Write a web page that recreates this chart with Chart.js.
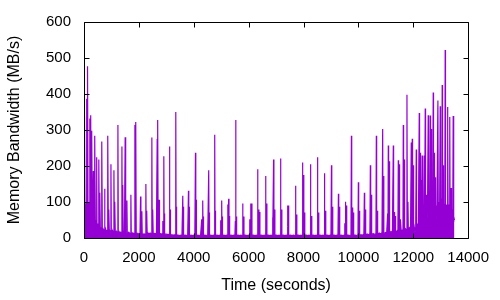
<!DOCTYPE html>
<html>
<head>
<meta charset="utf-8">
<script src="https://cdn.jsdelivr.net/npm/chart.js@4/dist/chart.umd.min.js"></script>
<style>
html,body{margin:0;padding:0;background:#fff;}
#wrap{width:500px;height:300px;}
</style>
</head>
<body>
<div id="wrap"><canvas id="c" width="500" height="300"></canvas></div>
<script>
// Tick labels
const xTickValues = [0, 2000, 4000, 6000, 8000, 10000, 12000, 14000];
const yTickValues = [0, 100, 200, 300, 400, 500, 600];
const xTitle = 'Time (seconds)';
const yTitle = 'Memory Bandwidth (MB/s)';

// Samples [time (s), bandwidth (MB/s)]
const samplesStart = [
 [0,45],[12,30],[25,338],[38,40],[52,60],[66,28],[80,95],[98,387],[110,45],[122,65],[135,477],[147,55],
 [160,35],[175,100],[190,40],[207,332],[218,60],[232,35],[244,341],[256,90],[270,45],[280,30],[291,298],
 [302,55],[316,70],[328,35],[340,186],[352,60],[366,45],[382,30],[400,284],[412,50],[426,35],[442,48],
 [462,224],[474,40],[490,28],[505,38],[520,24],[534,32],[546,218],[558,28],[570,24],[582,126],[594,24],
 [610,30],[625,20],[640,24],[655,268],[667,25],[682,20],[700,24],[720,18],[740,22],[752,137],[764,22],
 [780,18],[800,22],[820,17],[840,20],[858,18],[873,284],[885,30],[897,18],[909,79],[921,18],[940,20],
 [960,16],[982,205],[994,22],[1010,17],[1030,15],[1050,19],[1070,15],[1091,188],[1103,20],[1115,16],
 [1127,101],[1139,16],[1160,14],[1180,18],[1200,14],[1220,17],[1236,314],[1248,20],[1262,14],[1280,17],
 [1300,13],[1320,16],[1340,13],[1360,16],[1382,254],[1394,16],[1406,13],[1418,147],[1430,14],[1450,16],
 [1475,12],[1500,280],[1512,16],[1526,12],[1540,12],[1564,104],[1576,13],[1600,11],[1620,15],[1640,11],
 [1660,14],[1685,11],[1709,120],[1721,13],[1740,11],[1760,14],[1780,11],[1800,13],[1820,11],[1840,13],
 [1855,314],[1867,15],[1880,13],[1891,322],[1903,13],[1920,11],[1940,13],[1960,10],[1980,12],[2000,10],
 [2020,12],[2040,10],[2062,115],[2074,12],[2090,10],[2109,74],[2121,11],[2140,9],[2160,11],[2180,9],
 [2200,11],[2220,9],[2240,11],[2255,150],[2267,10],[2280,9],[2291,76],[2303,9]
];
const samplesEarlyMid = [
 [2330,14],[2370,12],[2410,14],[2450,12],[2473,279],[2485,14],[2497,10],[2510,79],[2522,10],[2560,13],
 [2600,12],[2640,13],[2667,275],[2679,20],[2691,328],[2703,14],[2716,10],[2740,106],[2752,10],[2790,12],
 [2830,11],[2860,12],[2873,47],[2885,10],[2909,227],[2921,12],[2933,68],[2945,10],[2990,11],[3040,10],
 [3080,10],[3100,9],[3116,254],[3128,10],[3140,79],[3152,9],[3200,9],[3250,8],[3300,9],[3330,8],
 [3345,350],[3357,9],[3369,87],[3381,8],[3430,8],[3480,7],[3530,8],[3570,7],[3600,117],[3612,9],
 [3624,87],[3636,7],[3690,8],[3740,7],[3780,8],[3807,131],[3819,9],[3831,87],[3843,7],[3900,8],
 [3950,7],[4000,8],[4040,7],[4062,237],[4074,9],[4086,106],[4098,7],[4150,8],[4200,7],[4250,8],
 [4290,52],[4302,9],[4327,104],[4339,10],[4351,60],[4363,7],[4410,8],[4460,7],[4510,8],[4545,188],
 [4557,9],[4569,71],[4581,7]
];
const samplesMid = [
 [4620,8],[4670,7],[4720,8],[4750,7],[4764,287],[4776,9],[4788,76],[4800,7],[4850,8],[4900,7],[4950,8],
 [4970,7],[4982,49],[4994,8],[5018,104],[5030,9],[5042,60],[5054,7],[5100,8],[5150,7],[5200,8],[5224,7],
 [5236,93],[5248,20],[5272,109],[5284,9],[5296,61],[5308,7],[5360,8],[5410,7],[5460,8],[5500,7],
 [5515,47],[5527,328],[5539,10],[5551,60],[5563,7],[5620,8],[5670,7],[5720,8],[5760,7],[5782,96],
 [5794,9],[5818,60],[5830,7],[5890,8],[5940,7],[5990,8],[6030,7],[6042,52],[6054,9],[6073,96],
 [6085,15],[6109,96],[6121,7],[6180,8],[6230,7],[6280,8],[6310,7],[6327,191],[6339,9],[6363,79],
 [6375,10],[6399,72],[6411,7],[6470,8],[6520,7],[6570,8],[6600,7],[6618,172],[6630,9],[6654,96],
 [6666,7],[6720,8],[6770,7],[6820,8],[6860,7],[6873,57],[6885,9],[6909,218],[6921,10],[6945,79],[6957,7]
];
const samplesLateMid = [
 [7010,8],[7060,7],[7110,8],[7145,7],[7163,221],[7175,9],[7199,79],[7211,7],[7270,8],[7320,7],[7370,8],
 [7410,7],[7418,90],[7430,33],[7442,60],[7454,90],[7466,7],[7530,8],[7580,7],[7630,8],[7690,7],
 [7709,145],[7721,9],[7745,65],[7757,7],[7810,8],[7860,7],[7910,8],[7945,7],[7963,210],[7975,20],
 [7999,175],[8011,9],[8035,71],[8047,7],[8100,8],[8150,7],[8200,8],[8240,7],[8254,205],[8266,9],
 [8290,61],[8302,7],[8360,8],[8410,7],[8460,8],[8495,7],[8509,224],[8521,9],[8545,71],[8557,7],
 [8610,8],[8660,7],[8710,8],[8750,7],[8763,180],[8775,9],[8799,76],[8811,7],[8870,8],[8920,7],
 [8970,8],[9000,7],[9018,202],[9030,9],[9054,87],[9066,7],[9120,8],[9170,7],[9220,8],[9255,7],
 [9272,123],[9284,9],[9308,87],[9320,7]
];
const samplesRise = [
 [9380,8],[9430,7],[9480,8],[9505,41],[9517,9],[9527,101],[9539,10],[9563,90],[9575,8],[9630,8],
 [9680,7],[9730,8],[9745,284],[9757,10],[9781,85],[9793,10],[9817,71],[9829,8],[9890,8],[9940,7],
 [9985,9],[9999,155],[10011,9],[10035,76],[10047,8],[10100,9],[10150,8],[10200,10],[10218,126],
 [10230,10],[10254,79],[10266,8],[10320,11],[10370,9],[10420,12],[10436,202],[10448,12],[10472,120],
 [10484,10],[10540,12],[10590,10],[10640,12],[10654,284],[10666,12],[10690,76],[10702,10],[10760,14],
 [10810,11],[10860,15],[10885,303],[10897,15],[10921,172],[10933,12],[10990,15],[11030,12],[11066,68],
 [11078,14],[11090,257],[11102,20],[11126,213],[11138,14],[11190,18],[11240,14],[11272,257],[11284,15],
 [11308,72],[11320,14],[11344,61],[11356,15],[11410,20],[11440,15],[11454,216],[11466,25],[11490,205],
 [11502,10],[11530,52],[11560,20]
];
const samplesEnd = [
 [11600,22],[11625,30],[11636,314],[11648,25],[11672,218],[11684,20],[11720,25],[11750,18],[11770,398],
 [11782,22],[11806,101],[11818,20],[11860,28],[11900,20],[11927,265],[11939,35],[11963,276],[11975,25],
 [12000,202],[12012,20],[12036,30],[12060,15],[12090,25],[12109,246],[12121,30],[12145,25],[12160,40],
 [12185,20],[12218,347],[12230,60],[12254,237],[12266,40],[12290,161],[12302,30],[12326,229],[12338,25],
 [12362,61],[12374,20],[12400,229],[12412,30],[12436,360],[12448,50],[12472,120],[12484,35],[12520,80],
 [12545,341],[12557,40],[12580,110],[12595,40],[12618,340],[12630,60],[12654,303],[12666,40],[12690,150],
 [12702,30],[12727,404],[12739,70],[12763,237],[12775,50],[12800,169],[12812,60],[12840,90],[12860,50],
 [12898,382],[12910,70],[12940,100],[12960,55],[12982,366],[12994,65],[13020,110],[13040,50],[13054,425],
 [13066,70],[13090,202],[13102,60],[13130,95],[13150,70],[13163,522],[13175,60],[13199,93],[13211,50],
 [13230,90],[13248,364],[13260,295],[13272,55],[13296,93],[13308,45],[13330,336],[13342,60],[13381,139],
 [13393,55],[13420,80],[13440,50],[13454,339],[13466,45],[13480,60],[13500,50]
];

const allSamples = [].concat(samplesStart, samplesEarlyMid, samplesMid, samplesLateMid, samplesRise, samplesEnd);
const purple = '#9400D3';
const tickFont = {family: '"Liberation Sans", Arial, sans-serif', size: 15};
const titleFont = {family: '"Liberation Sans", Arial, sans-serif', size: 16};

const framePlugin = {
  id: 'frame',
  afterDatasetsDraw(chart) {
    const {ctx, chartArea: a, scales: {x, y}} = chart;
    const L = Math.round(a.left) + 0.5, R = Math.round(a.right) + 0.5;
    const T = Math.round(a.top) + 0.5, B = Math.round(a.bottom) + 0.5;
    const len = 5;
    ctx.save();
    ctx.strokeStyle = '#000';
    ctx.lineWidth = 1;
    ctx.beginPath();
    ctx.rect(L, T, R - L, B - T);
    x.ticks.forEach(t => {
      const p = Math.round(x.getPixelForValue(t.value)) + 0.5;
      ctx.moveTo(p, B); ctx.lineTo(p, B - len);
      ctx.moveTo(p, T); ctx.lineTo(p, T + len);
    });
    y.ticks.forEach(t => {
      const p = Math.round(y.getPixelForValue(t.value)) + 0.5;
      ctx.moveTo(L, p); ctx.lineTo(L + len, p);
      ctx.moveTo(R, p); ctx.lineTo(R - len, p);
    });
    ctx.stroke();
    ctx.restore();
  }
};

new Chart(document.getElementById('c'), {
  type: 'line',
  data: {
    datasets: [{
      data: allSamples.map(s => ({x: s[0], y: s[1]})),
      borderColor: purple,
      backgroundColor: purple,
      borderWidth: 1.2,
      pointRadius: 0,
      tension: 0,
      fill: 'origin'
    }]
  },
  options: {
    responsive: false,
    animation: false,
    events: [],
    layout: {padding: {top: 19, right: 31, bottom: 0, left: 0}},
    plugins: {legend: {display: false}, tooltip: {enabled: false}},
    scales: {
      x: {
        type: 'linear',
        min: 0, max: 14000,
        grid: {display: false, drawTicks: false},
        border: {display: false},
        afterBuildTicks: s => { s.ticks = xTickValues.map(v => ({value: v})); },
        afterFit: s => { s.height = 62; },
        ticks: {color: '#000', font: tickFont, padding: 11, maxRotation: 0, autoSkip: false,
                callback: v => String(v)},
        title: {display: true, text: xTitle, color: '#000', font: titleFont, padding: {top: 0, bottom: 5}}
      },
      y: {
        type: 'linear',
        min: 0, max: 600,
        grid: {display: false, drawTicks: false},
        border: {display: false},
        afterBuildTicks: s => { s.ticks = yTickValues.map(v => ({value: v})); },
        afterFit: s => { s.width = 84; },
        ticks: {color: '#000', font: tickFont, padding: 13, autoSkip: false,
                callback: v => String(v)},
        title: {display: true, text: yTitle, color: '#000', font: titleFont, padding: {top: 5, bottom: 0}}
      }
    }
  },
  plugins: [framePlugin]
});
</script>
</body>
</html>
